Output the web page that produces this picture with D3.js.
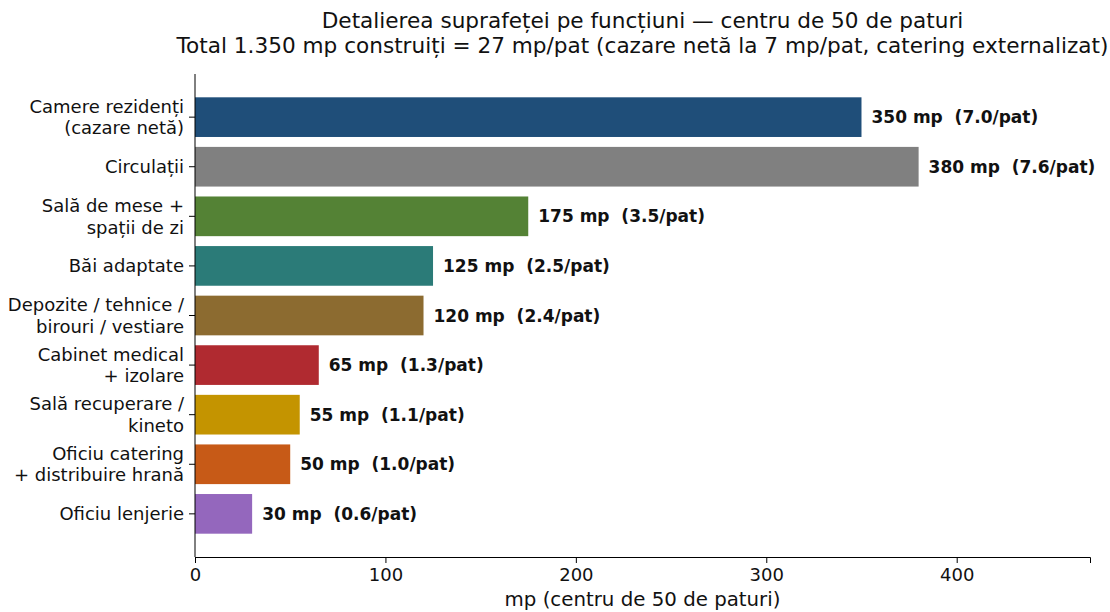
<!DOCTYPE html>
<head>
    <meta charset="utf-8">
    <style>
        body { margin: 0; background: #fff; }
        svg text { font-family: "DejaVu Sans", sans-serif; fill: #111; }
        .title { font-size: 21.6px; }
        .ylab { font-size: 18px; }
        .xtick { font-size: 18px; }
        .xlabel { font-size: 19.8px; }
        .val { font-size: 17px; font-weight: bold; }
    </style>
</head>
<body>
    <div id="chart-area"></div>
    <script src="https://cdn.jsdelivr.net/npm/d3@7"></script>
    <script>
        // data
        var categories = [
            "Camere rezidenți\n(cazare netă)",
            "Circulații",
            "Sală de mese +\nspații de zi",
            "Băi adaptate",
            "Depozite / tehnice /\nbirouri / vestiare",
            "Cabinet medical\n+ izolare",
            "Sală recuperare /\nkineto",
            "Oficiu catering\n+ distribuire hrană",
            "Oficiu lenjerie"
        ]
        var areas = [350, 380, 175, 125, 120, 65, 55, 50, 30]
        var perBed = [7.0, 7.6, 3.5, 2.5, 2.4, 1.3, 1.1, 1.0, 0.6]
        var colors = ["#1f4e79", "#808080", "#548235", "#2b7b78", "#8c6b30",
                      "#b02a30", "#c49400", "#c75a17", "#9467bd"]
        var xTicks = [0, 100, 200, 300, 400]
        var titleLines = [
            "Detalierea suprafeței pe funcțiuni — centru de 50 de paturi",
            "Total 1.350 mp construiți = 27 mp/pat (cazare netă la 7 mp/pat, catering externalizat)"
        ]
        var xLabel = "mp (centru de 50 de paturi)"

        var W = 1110, H = 612
        var margins = { top: 74, left: 195, right: 20, bottom: 55 }
        var width = W - margins.left - margins.right
        var height = H - margins.top - margins.bottom

        var svg = d3.select("#chart-area").append("svg")
            .attr("width", W).attr("height", H)

        var x = d3.scaleLinear().domain([0, 470]).range([0, width])
        var y = d3.scaleBand().domain(d3.range(categories.length))
            .range([0, height]).paddingInner(0.2).paddingOuter(0.47)

        var g = svg.append("g").attr("transform", `translate(${margins.left},${margins.top})`)

        g.selectAll("rect.bar")
            .data(areas)
            .join("rect")
            .attr("class", "bar")
            .attr("x", 0)
            .attr("y", (d, i) => y(i))
            .attr("width", d => x(d))
            .attr("height", y.bandwidth())
            .attr("fill", (d, i) => colors[i])

        g.selectAll("text.val")
            .data(areas)
            .join("text")
            .attr("class", "val")
            .attr("x", d => x(d) + 10)
            .attr("y", (d, i) => y(i) + y.bandwidth() / 2)
            .attr("dy", "0.36em")
            .attr("xml:space", "preserve")
            .text((d, i) => `${d} mp  (${perBed[i].toFixed(1)}/pat)`)

        // y axis: spine + ticks + multi-line labels
        g.append("line").attr("x1", 0).attr("x2", 0).attr("y1", 0).attr("y2", height)
            .attr("stroke", "#000").attr("stroke-width", 1)

        var yt = g.selectAll("g.ytick")
            .data(categories)
            .join("g")
            .attr("class", "ytick")
            .attr("transform", (d, i) => `translate(0,${y(i) + y.bandwidth() / 2})`)
        yt.append("line").attr("x1", -6).attr("x2", 0).attr("stroke", "#000")
        yt.each(function (d) {
            var lines = d.split("\n")
            var t = d3.select(this).append("text").attr("class", "ylab")
                .attr("text-anchor", "end")
            lines.forEach((l, k) => {
                t.append("tspan").attr("x", -11)
                    .attr("y", (k - (lines.length - 1) / 2) * 21.5)
                    .attr("dy", "0.36em").text(l)
            })
        })

        // x axis
        var xa = g.append("g").attr("transform", `translate(0,${height})`)
            .call(d3.axisBottom(x).tickValues(xTicks).tickSize(6).tickPadding(5))
        xa.select(".domain").attr("stroke", "#000")
        xa.selectAll("text").attr("class", "xtick").attr("font-family", null).attr("font-size", null).attr("fill", null)

        g.append("text").attr("class", "xlabel")
            .attr("x", width / 2).attr("y", height + 49)
            .attr("text-anchor", "middle").text(xLabel)

        svg.selectAll("text.title")
            .data(titleLines)
            .join("text")
            .attr("class", "title")
            .attr("x", margins.left + width / 2)
            .attr("y", (d, i) => 28 + i * 24.5)
            .attr("text-anchor", "middle")
            .text(d => d)
    </script>
</body>
